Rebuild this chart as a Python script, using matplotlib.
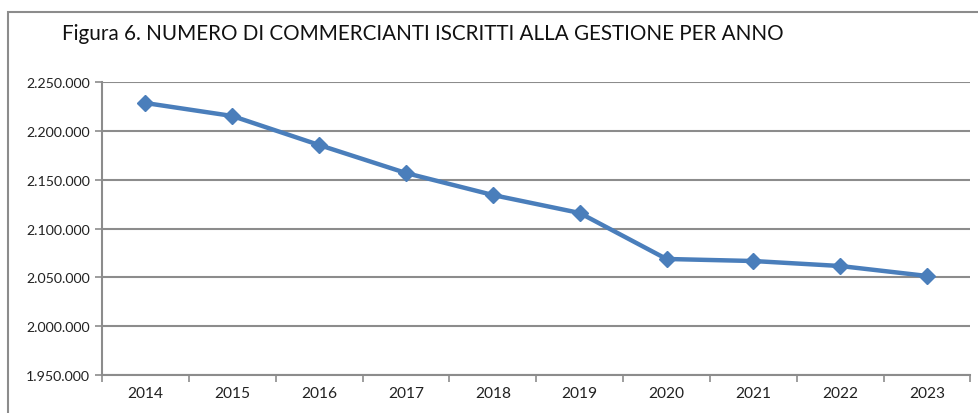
import matplotlib
matplotlib.use("Agg")
import matplotlib.pyplot as plt
from matplotlib.patches import Rectangle
from matplotlib.ticker import FuncFormatter, FixedLocator

years = ["2014", "2015", "2016", "2017", "2018", "2019", "2020", "2021", "2022", "2023"]
iscritti = [2228500, 2215200, 2185500, 2156800, 2134300, 2115900, 2068800, 2066700, 2061600, 2051400]
title = "Figura 6. NUMERO DI COMMERCIANTI ISCRITTI ALLA GESTIONE PER ANNO"

plt.rcParams['font.family'] = ['Lato', 'DejaVu Sans']

fig = plt.figure(figsize=(9.79, 4.14), dpi=100)
ax = fig.add_axes([0.1042, 0.0918, 0.8871, 0.7077])

# outer chart frame (cut off on right/bottom like the screenshot)
fig.patches.append(Rectangle((0.0082, -0.1), 1.1, 1.0686, transform=fig.transFigure,
                             fill=False, edgecolor="#8c8c8c", linewidth=1.5))

x = list(range(len(years)))
ax.plot(x, iscritti, color="#4a7ebb", linewidth=3.2, marker="D", markersize=8,
        markeredgecolor="#4a7ebb", solid_joinstyle="round", zorder=3)

ax.set_xlim(-0.5, len(years) - 0.5)
ax.set_ylim(1950000, 2250000)
ax.set_yticks(range(1950000, 2250001, 50000))
ax.yaxis.set_major_formatter(FuncFormatter(lambda v, p: f"{int(v):,}".replace(",", ".")))
ax.yaxis.grid(True, color="#8c8c8c", linewidth=1.5)
ax.set_axisbelow(True)

# category ticks sit between years, labels centred on the years
ax.xaxis.set_major_locator(FixedLocator([i - 0.5 for i in range(len(years) + 1)]))
ax.xaxis.set_minor_locator(FixedLocator(x))
ax.set_xticklabels([])
ax.set_xticklabels(years, minor=True)
ax.tick_params(axis="x", which="major", length=5, width=1.2, color="#8c8c8c")
ax.tick_params(axis="x", which="minor", length=0, pad=8, labelsize=11.2, labelcolor="#222222")
ax.tick_params(axis="y", length=5, width=1.2, color="#8c8c8c", labelsize=10.2, labelcolor="#222222")

for s in ["top", "right"]:
    ax.spines[s].set_visible(False)
for s in ["left", "bottom"]:
    ax.spines[s].set_color("#8c8c8c")
    ax.spines[s].set_linewidth(1.5)

fig.text(0.0633, 0.918, title, fontsize=14.9, color="#111111", va="center", ha="left")

fig.savefig("out.png", dpi=100)
